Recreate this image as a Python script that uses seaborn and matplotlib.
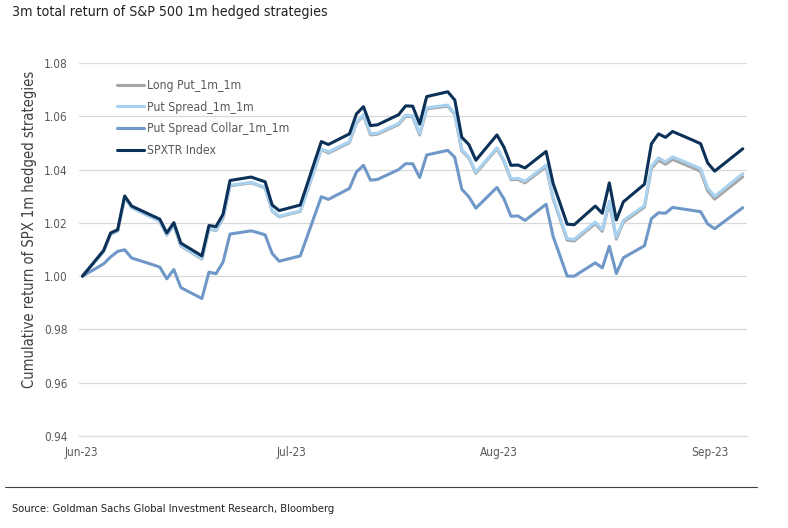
import pandas as pd
import numpy as np
import matplotlib
matplotlib.use("Agg")
import matplotlib.pyplot as plt
from matplotlib import font_manager as fm
from matplotlib.lines import Line2D
import seaborn as sns

# trading days shown on the chart (weekdays, 2 Jun - 4 Sep 2023)
dates = pd.bdate_range("2023-06-02", "2023-09-04")

spxtr = [1.0000, 1.0096, 1.0162, 1.0174, 1.0301, 1.0263, 1.0226, 1.0214, 1.0162, 1.0201,
         1.0124, 1.0076, 1.0190, 1.0186, 1.0232, 1.0359, 1.0372, 1.0363, 1.0354, 1.0267,
         1.0246, 1.0267, 1.0346, 1.0426, 1.0505, 1.0494, 1.0534, 1.0609, 1.0636, 1.0565,
         1.0568, 1.0606, 1.0639, 1.0638, 1.0571, 1.0674, 1.0692, 1.0661, 1.0521, 1.0494,
         1.0435, 1.0530, 1.0484, 1.0416, 1.0417, 1.0406, 1.0468, 1.0348, 1.0272, 1.0195,
         1.0193, 1.0263, 1.0236, 1.0350, 1.0211, 1.0279, 1.0345, 1.0497, 1.0534, 1.0521,
         1.0543, 1.0509, 1.0497, 1.0425, 1.0394, 1.0415, 1.0478]

put_spread = [1.0000, 1.0093, 1.0157, 1.0169, 1.0294, 1.0257, 1.0219, 1.0206, 1.0154, 1.0192,
              1.0115, 1.0066, 1.0178, 1.0173, 1.0218, 1.0341, 1.0352, 1.0343, 1.0333, 1.0246,
              1.0225, 1.0245, 1.0322, 1.0400, 1.0477, 1.0466, 1.0505, 1.0579, 1.0606, 1.0534,
              1.0537, 1.0573, 1.0604, 1.0602, 1.0534, 1.0632, 1.0642, 1.0611, 1.0474, 1.0448,
              1.0390, 1.0482, 1.0435, 1.0366, 1.0367, 1.0356, 1.0417, 1.0296, 1.0219, 1.0141,
              1.0138, 1.0203, 1.0174, 1.0282, 1.0145, 1.0209, 1.0265, 1.0412, 1.0444, 1.0429,
              1.0448, 1.0415, 1.0403, 1.0331, 1.0300, 1.0321, 1.0385]

long_put = [1.0000, 1.0093, 1.0157, 1.0169, 1.0294, 1.0257, 1.0219, 1.0206, 1.0154, 1.0192,
            1.0113, 1.0064, 1.0176, 1.0171, 1.0216, 1.0339, 1.0350, 1.0341, 1.0331, 1.0244,
            1.0223, 1.0243, 1.0320, 1.0398, 1.0475, 1.0462, 1.0501, 1.0575, 1.0602, 1.0530,
            1.0533, 1.0569, 1.0600, 1.0598, 1.0530, 1.0628, 1.0638, 1.0607, 1.0470, 1.0444,
            1.0386, 1.0478, 1.0431, 1.0362, 1.0363, 1.0350, 1.0411, 1.0290, 1.0213, 1.0135,
            1.0132, 1.0197, 1.0168, 1.0276, 1.0139, 1.0203, 1.0259, 1.0404, 1.0435, 1.0420,
            1.0438, 1.0405, 1.0393, 1.0320, 1.0289, 1.0310, 1.0373]

collar = [1.0000, 1.0046, 1.0072, 1.0093, 1.0099, 1.0068, 1.0043, 1.0034, 0.9990, 1.0025,
          0.9957, 0.9916, 1.0015, 1.0009, 1.0052, 1.0158, 1.0170, 1.0163, 1.0155, 1.0085,
          1.0056, 1.0076, 1.0150, 1.0224, 1.0298, 1.0288, 1.0329, 1.0391, 1.0416, 1.0360,
          1.0363, 1.0400, 1.0422, 1.0422, 1.0370, 1.0455, 1.0472, 1.0446, 1.0326, 1.0298,
          1.0255, 1.0333, 1.0290, 1.0225, 1.0226, 1.0209, 1.0270, 1.0149, 1.0075, 1.0000,
          1.0000, 1.0050, 1.0031, 1.0112, 1.0010, 1.0069, 1.0114, 1.0216, 1.0238, 1.0236,
          1.0258, 1.0246, 1.0242, 1.0196, 1.0178, 1.0198, 1.0257]

series = ["Long Put_1m_1m", "Put Spread_1m_1m", "Put Spread Collar_1m_1m", "SPXTR Index"]
colors = ["#A6A6A6", "#A9D1F0", "#6F98C8", "#0B3158"]
month_labels = ["Jun-23", "Jul-23", "Aug-23", "Sep-23"]

df = pd.DataFrame({"date": dates,
                   series[0]: long_put,
                   series[1]: put_spread,
                   series[2]: collar,
                   series[3]: spxtr})
long_df = df.melt(id_vars="date", var_name="series", value_name="value")

sns.set_theme(style="white")
# narrow font like the original; fall back to condensed DejaVu
installed = {f.name for f in fm.fontManager.ttflist}
if "Liberation Sans Narrow" in installed:
    plt.rcParams["font.family"] = ["Liberation Sans Narrow", "DejaVu Sans"]
else:
    plt.rcParams["font.family"] = ["DejaVu Sans"]
    plt.rcParams["font.stretch"] = "condensed"

fig = plt.figure(figsize=(7.88, 5.28), dpi=100)
ax = fig.add_axes([79 / 788, 1 - 436 / 528, 668 / 788, 373 / 528])

sns.lineplot(data=long_df, x="date", y="value", hue="series", hue_order=series,
             palette=dict(zip(series, colors)), linewidth=2.2, ax=ax,
             solid_joinstyle="round", solid_capstyle="round")

start = dates[0]
ax.set_xlim(start - pd.Timedelta(days=0.5), start + pd.Timedelta(days=94.6))
ax.set_ylim(0.94, 1.08)
ax.set_yticks(np.arange(0.94, 1.0801, 0.02))
ax.yaxis.set_major_formatter(plt.FuncFormatter(lambda v, p: f"{v:.2f}"))
tick_pos = [start + pd.Timedelta(days=d) for d in (-0.1, 29.7, 59.3, 89.3)]
ax.set_xticks(tick_pos)
ax.set_xticklabels(month_labels)

ax.grid(axis="y", color="#D9D9D9", linewidth=0.9)
ax.grid(axis="x", visible=False)
for s in ["top", "right", "left"]:
    ax.spines[s].set_visible(False)
ax.spines["bottom"].set_color("#D9D9D9")
ax.spines["bottom"].set_linewidth(0.9)
ax.tick_params(axis="x", colors="#595959", labelsize=8.5, length=4, width=0.8,
               direction="out", color="#D9D9D9", pad=3)
ax.tick_params(axis="y", colors="#595959", labelsize=8.5, length=0, pad=8)
ax.set_xlabel("")
ax.set_ylabel("Cumulative return of SPX 1m hedged strategies", fontsize=10.5,
              color="#404040")
ax.yaxis.set_label_coords(-0.063, 0.555)

handles, labels = ax.get_legend_handles_labels()
ax.legend(handles, labels, loc="upper left", bbox_to_anchor=(0.041, 0.987),
          frameon=False, fontsize=8.8, handlelength=2.2, handletextpad=0.2,
          labelspacing=0.72, labelcolor="#595959")

fig.text(12 / 788, 1 - 5 / 528, "3m total return of S&P 500 1m hedged strategies",
         fontsize=10.2, color="#222222", va="top", ha="left")
fig.add_artist(Line2D([5 / 788, 757 / 788], [1 - 487 / 528, 1 - 487 / 528],
                      color="#404040", linewidth=0.8))
fig.text(12 / 788, 1 - 509 / 528,
         "Source: Goldman Sachs Global Investment Research, Bloomberg",
         fontsize=8, color="#222222", va="center", ha="left")

fig.savefig("out.png", dpi=100)
